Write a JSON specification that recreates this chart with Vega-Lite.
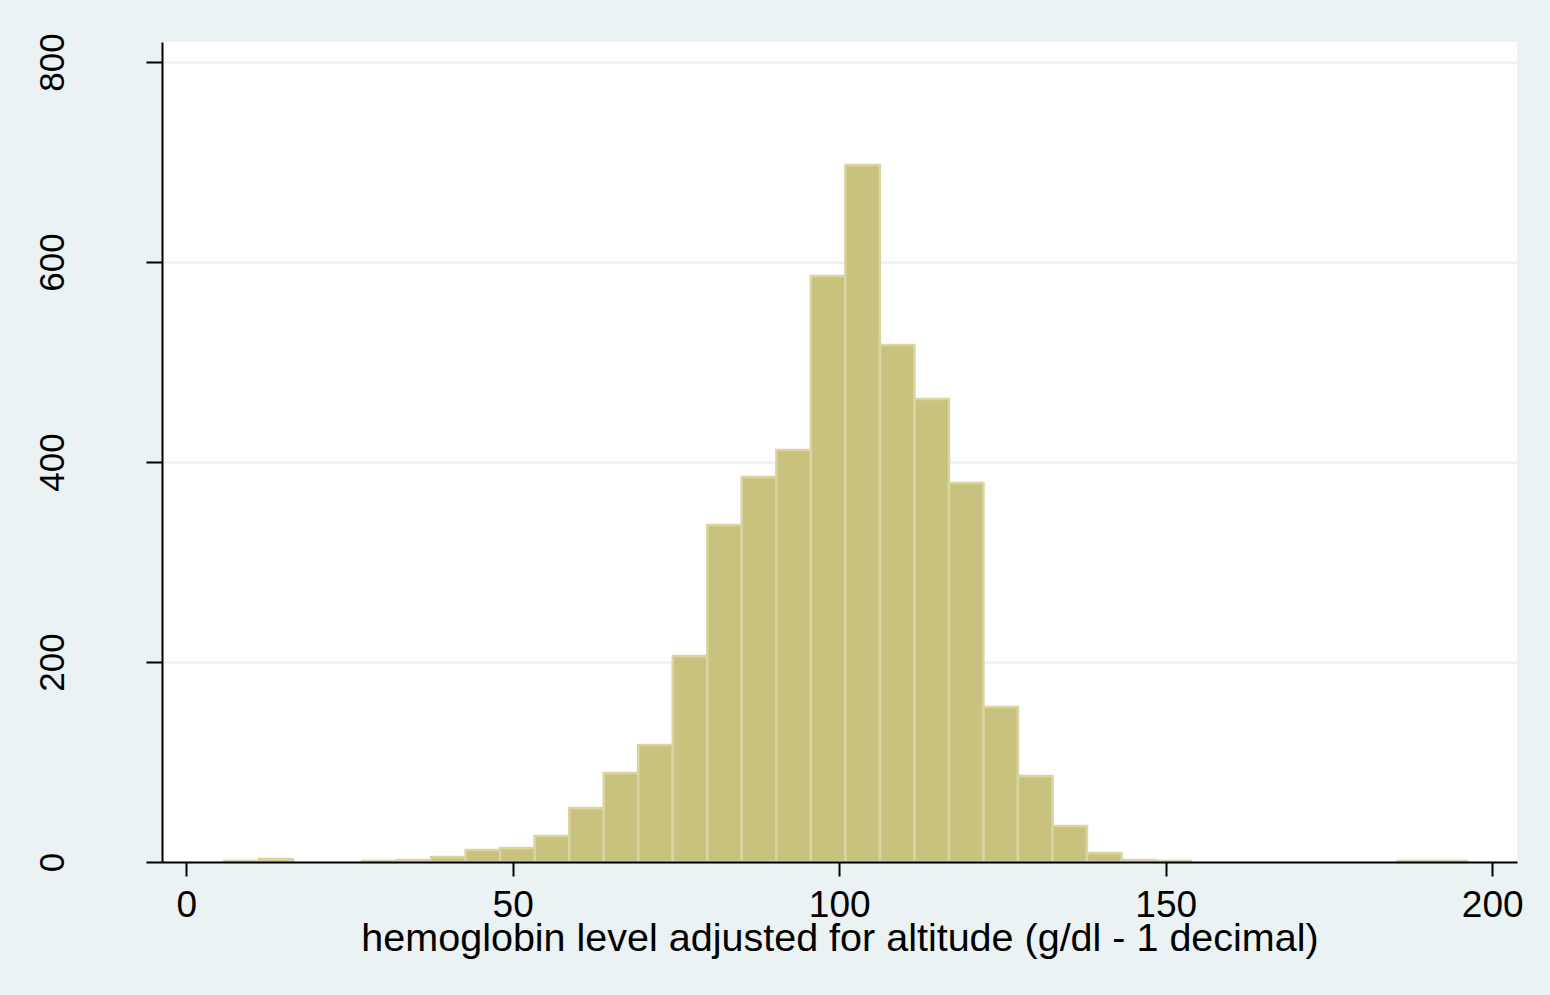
{
  "$schema": "https://vega.github.io/schema/vega-lite/v6.json",
  "autosize": {"type": "none"},
  "width": 1355,
  "height": 820,
  "padding": {"left": 162, "top": 42, "right": 33, "bottom": 133},
  "background": "#eaf2f3",
  "config": {
    "view": {"fill": "white", "stroke": null},
    "font": "Liberation Sans"
  },
  "data": {
    "values": [
      {"lo": 5.80, "hi": 11.09, "count": 1},
      {"lo": 11.09, "hi": 16.37, "count": 3},
      {"lo": 26.94, "hi": 32.23, "count": 1},
      {"lo": 32.23, "hi": 37.52, "count": 2},
      {"lo": 37.52, "hi": 42.80, "count": 5},
      {"lo": 42.80, "hi": 48.09, "count": 12},
      {"lo": 48.09, "hi": 53.38, "count": 14},
      {"lo": 53.38, "hi": 58.66, "count": 26},
      {"lo": 58.66, "hi": 63.95, "count": 54},
      {"lo": 63.95, "hi": 69.23, "count": 89},
      {"lo": 69.23, "hi": 74.52, "count": 117},
      {"lo": 74.52, "hi": 79.81, "count": 206},
      {"lo": 79.81, "hi": 85.09, "count": 337},
      {"lo": 85.09, "hi": 90.38, "count": 385},
      {"lo": 90.38, "hi": 95.66, "count": 412},
      {"lo": 95.66, "hi": 100.95, "count": 586},
      {"lo": 100.95, "hi": 106.24, "count": 697},
      {"lo": 106.24, "hi": 111.52, "count": 517},
      {"lo": 111.52, "hi": 116.81, "count": 463},
      {"lo": 116.81, "hi": 122.09, "count": 379},
      {"lo": 122.09, "hi": 127.38, "count": 155},
      {"lo": 127.38, "hi": 132.67, "count": 86},
      {"lo": 132.67, "hi": 137.95, "count": 36},
      {"lo": 137.95, "hi": 143.24, "count": 9},
      {"lo": 143.24, "hi": 148.52, "count": 2},
      {"lo": 148.52, "hi": 153.81, "count": 1},
      {"lo": 185.53, "hi": 190.81, "count": 1},
      {"lo": 190.81, "hi": 196.10, "count": 1}
    ]
  },
  "mark": {"type": "rect", "fill": "#c9c27e", "stroke": "#dad5a0", "strokeWidth": 2.5},
  "encoding": {
    "x": {
      "field": "lo",
      "type": "quantitative",
      "scale": {"domain": [-3.7, 203.8], "nice": false, "zero": false},
      "axis": {
        "values": [0, 50, 100, 150, 200],
        "grid": false,
        "title": "hemoglobin level adjusted for altitude (g/dl - 1 decimal)",
        "titleFont": "Liberation Sans",
        "titleFontSize": 39.5,
        "titleFontWeight": "normal",
        "titleColor": "black",
        "titleBaseline": "alphabetic",
        "titleY": 88,
        "labelFont": "Liberation Sans",
        "labelFontSize": 37,
        "labelColor": "black",
        "labelPadding": 11,
        "labelFlush": false,
        "labelOverlap": false,
        "tickSize": 14,
        "tickWidth": 2,
        "tickColor": "black",
        "domainColor": "black",
        "domainWidth": 2,
        "zindex": 1
      }
    },
    "x2": {"field": "hi"},
    "y": {
      "field": "count",
      "type": "quantitative",
      "scale": {"domain": [0, 820], "nice": false},
      "axis": {
        "values": [0, 200, 400, 600, 800],
        "title": null,
        "grid": true,
        "gridColor": "#eaf2f3",
        "gridWidth": 2.5,
        "labelFont": "Liberation Sans",
        "labelFontSize": 35,
        "labelColor": "black",
        "labelAngle": 270,
        "labelAlign": "center",
        "labelBaseline": "alphabetic",
        "labelPadding": 83,
        "labelFlush": false,
        "labelOverlap": false,
        "tickSize": 16,
        "tickWidth": 2,
        "tickColor": "black",
        "domainColor": "black",
        "domainWidth": 2
      }
    },
    "y2": {"datum": 0}
  }
}
